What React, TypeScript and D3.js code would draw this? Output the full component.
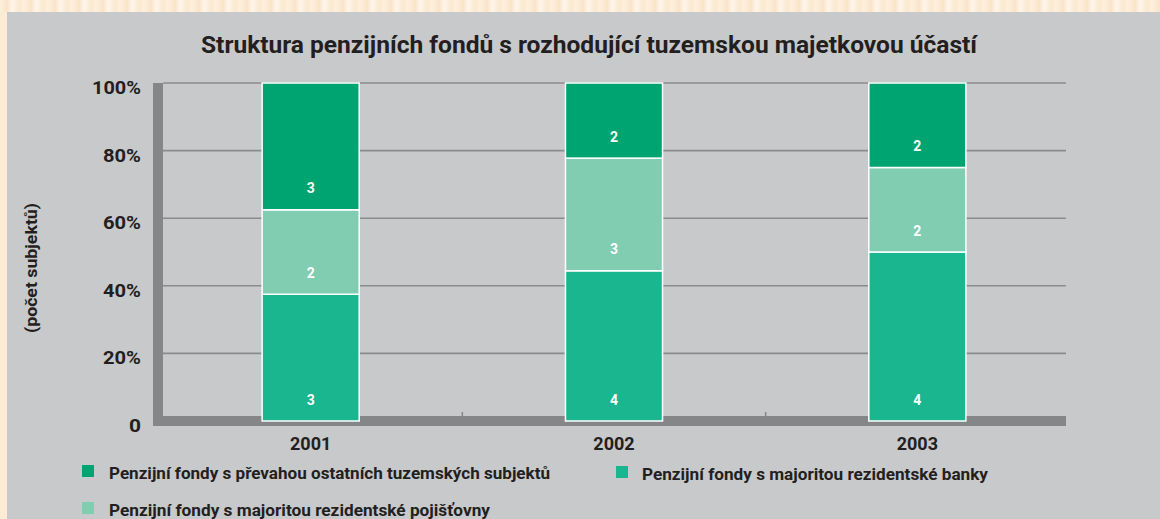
import React from "react";
import * as d3 from "d3";

const years = ["2001", "2002", "2003"];
const banky = [3, 4, 4];
const pojistovny = [2, 3, 2];
const ostatni = [3, 2, 2];
const yTicks = [0, 0.2, 0.4, 0.6, 0.8, 1];
const yTickLabels = ["0", "20%", "40%", "60%", "80%", "100%"];

const seriesNames = [
  "Penzijní fondy s majoritou rezidentské banky",
  "Penzijní fondy s majoritou rezidentské pojišťovny",
  "Penzijní fondy s převahou ostatních tuzemských subjektů",
];
const seriesColors = ["#19B690", "#80CDB2", "#00A470"];

const title = "Struktura penzijních fondů s rozhodující tuzemskou majetkovou účastí";
const yAxisTitle = "(počet subjektů)";

const W = 1160;
const H = 519;
const FONT = "Roboto, 'DejaVu Sans', sans-serif";
const TEXT = "#231F20";

export default function App() {
  const x = d3.scaleBand<string>().domain(years).range([159, 1069]).paddingInner(0.68).paddingOuter(0.34);
  const y = d3.scaleLinear().domain([0, 1]).range([421, 83]);

  const table = years.map((yr, i) => {
    const vals = [banky[i], pojistovny[i], ostatni[i]];
    const total = d3.sum(vals);
    const row: any = { year: yr };
    vals.forEach((v, k) => (row["s" + k] = v / total));
    row.raw = vals;
    return row;
  });
  const stack = d3.stack().keys(["s0", "s1", "s2"]);
  const stacked = stack(table as any);

  const plotLeft = 163;
  const plotRight = 1066;
  const boundaries = years.slice(1).map((yr) => (x(yr) as number) - x.step() * x.paddingInner() / 2);

  const legend = [
    { idx: 2, sx: 82, sy: 465, tx: 109, ty: 479, len: 441 },
    { idx: 0, sx: 616, sy: 466, tx: 642, ty: 480, len: 346 },
    { idx: 1, sx: 82, sy: 502, tx: 109, ty: 516, len: 381 },
  ];
  const tickLens: Record<string, number> = { "0": 12, "20%": 38, "40%": 38, "60%": 38, "80%": 38, "100%": 49 };

  return (
    <svg width={W} height={H} style={{ position: "absolute", left: 0, top: 0, display: "block" }} fontFamily={FONT}>
      <defs>
        <linearGradient id="stripes" x1="0" x2="1" y1="0" y2="0" spreadMethod="repeat">
          <stop offset="0" stopColor="#FDF0DC" />
          <stop offset="0.3" stopColor="#FBE3C8" />
          <stop offset="0.5" stopColor="#FEF6EA" />
          <stop offset="0.8" stopColor="#FBE8CF" />
          <stop offset="1" stopColor="#FDF0DC" />
        </linearGradient>
        <pattern id="stripePat" width="24" height="12" patternUnits="userSpaceOnUse">
          <rect width="24" height="12" fill="url(#stripes)" />
        </pattern>
      </defs>
      <rect x={0} y={0} width={W} height={H} fill="#FCEBD5" />
      <rect x={0} y={0} width={W} height={12} fill="url(#stripePat)" />
      <rect x={7} y={12} width={W - 7} height={H - 12} fill="#C8C9CB" />

      <text x={589} y={53} textAnchor="middle" fontSize={24} fontWeight="bold" fill={TEXT} textLength={776} lengthAdjust="spacingAndGlyphs">
        {title}
      </text>

      {yTicks.slice(1).map((t) => (
        <line key={t} x1={plotLeft} x2={plotRight} y1={y(t)} y2={y(t)} stroke="#8A8B8D" strokeWidth={1.6} />
      ))}

      <rect x={153} y={83} width={10} height={343} fill="#858688" />
      <rect x={153} y={416} width={913} height={10} fill="#858688" />
      {boundaries.map((b, i) => (
        <line key={i} x1={b} x2={b} y1={412} y2={416} stroke="#858688" strokeWidth={1.5} />
      ))}

      {stacked.map((layer, k) => (
        <g key={k}>
          {layer.map((d, i) => {
            const x0 = x(years[i]) as number;
            const yTop = y(d[1]);
            const yBot = y(d[0]);
            return (
              <g key={i}>
                <rect x={x0} y={yTop} width={x.bandwidth()} height={yBot - yTop} fill={seriesColors[k]} stroke="#FFFFFF" strokeWidth={1.5} />
                <text x={x0 + x.bandwidth() / 2} y={yBot - 20} textAnchor="middle" dominantBaseline="middle" fontSize={14} fontWeight="bold" fill="#FFFFFF">
                  {table[i].raw[k]}
                </text>
              </g>
            );
          })}
        </g>
      ))}

      {yTicks.map((t, i) => (
        <text key={t} x={141} y={y(t) + 6} textAnchor="end" dominantBaseline="middle" fontSize={19} fontWeight="bold" fill={TEXT}
          textLength={tickLens[yTickLabels[i]]} lengthAdjust="spacingAndGlyphs">
          {yTickLabels[i]}
        </text>
      ))}

      {years.map((yr) => (
        <text key={yr} x={(x(yr) as number) + x.bandwidth() / 2} y={450} textAnchor="middle" fontSize={18} fontWeight="bold" fill={TEXT}>
          {yr}
        </text>
      ))}

      <text transform="translate(37,268) rotate(-90)" textAnchor="middle" fontSize={16} fontWeight="bold" fill={TEXT}
        textLength={130} lengthAdjust="spacingAndGlyphs">
        {yAxisTitle}
      </text>

      {legend.map((l) => (
        <g key={l.idx}>
          <rect x={l.sx} y={l.sy} width={12} height={12} fill={seriesColors[l.idx]} />
          <text x={l.tx} y={l.ty} fontSize={16} fontWeight="bold" fill={TEXT} textLength={l.len} lengthAdjust="spacingAndGlyphs">
            {seriesNames[l.idx]}
          </text>
        </g>
      ))}
    </svg>
  );
}
